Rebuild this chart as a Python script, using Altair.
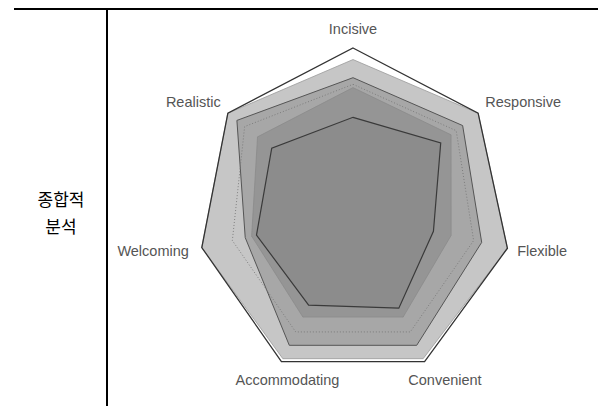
import altair as alt
import pandas as pd

# ---- data (radius as share of the outer ring) ----
axes_names = ["Incisive", "Responsive", "Flexible", "Convenient",
              "Accommodating", "Welcoming", "Realistic"]
s_outer  = [1.00, 0.97, 0.96, 1.00, 1.00, 0.94, 0.97]
s_light  = [0.93, 0.97, 0.96, 0.98, 0.98, 0.94, 0.97]
s_mid    = [0.82, 0.85, 0.80, 0.89, 0.89, 0.67, 0.90]
s_dotted = [0.78, 0.80, 0.75, 0.80, 0.80, 0.75, 0.84]
s_band   = [0.76, 0.76, 0.61, 0.70, 0.70, 0.63, 0.74]
s_inner  = [0.58, 0.68, 0.50, 0.64, 0.62, 0.60, 0.63]
row_title = ["종합적", "분석"]

series = {"outer": s_outer, "light": s_light, "mid": s_mid,
          "dotted": s_dotted, "band": s_band, "inner": s_inner}

rows = []
for name, vals in series.items():
    for k, (cat, v) in enumerate(zip(axes_names, vals)):
        rows.append({"series": name, "axis": cat, "k": k, "value": v})
df = pd.DataFrame(rows)
lab = pd.DataFrame({"axis": axes_names, "k": list(range(len(axes_names)))})
one = pd.DataFrame({"t": [0]})

xs = alt.Scale(domain=[-1, 1], range=[180, 510])
ys = alt.Scale(domain=[-1, 1], range=[370, 40])

base = alt.Chart(df).transform_calculate(
    px="datum.value*sin(2*PI*datum.k/7)",
    py="datum.value*cos(2*PI*datum.k/7)",
)


def poly(name, **mk):
    return (base.transform_filter(alt.datum.series == name)
            .mark_line(interpolate="linear-closed", **mk)
            .encode(x=alt.X("px:Q", scale=xs, axis=None),
                    y=alt.Y("py:Q", scale=ys, axis=None),
                    order="k:Q"))


FILL = "#808080"
FO = 0.45
layers = [
    poly("light", fill=FILL, fillOpacity=FO, stroke="#9a9a9a", strokeWidth=0.8),
    poly("mid", fill=FILL, fillOpacity=FO, stroke="#555555", strokeWidth=1),
    poly("band", fill=FILL, fillOpacity=FO, stroke="#888888", strokeWidth=0.7),
    poly("inner", fill=FILL, fillOpacity=FO, stroke="#3a3a3a", strokeWidth=1.2),
    poly("dotted", stroke="#777777", strokeWidth=0.9, strokeDash=[1, 2]),
    poly("outer", stroke="#333333", strokeWidth=1.3),
]

lbase = alt.Chart(lab).transform_calculate(
    s="sin(2*PI*datum.k/7)",
    c="cos(2*PI*datum.k/7)",
).transform_calculate(
    lx="abs(datum.s)<0.1 ? 0 : (abs(datum.s)<0.5 ? datum.s*1.1+0.08 : datum.s+0.02*(datum.s>0?1:-1))",
    ly="datum.c*(abs(datum.s)<0.1 ? 1.11 : (abs(datum.s)<0.5 ? 1.13 : 1.07))",
)


def labels(cond, align):
    return (lbase.transform_filter(cond)
            .mark_text(align=align, baseline="middle", font="Liberation Sans",
                       fontSize=14.5, color="#555555")
            .encode(x=alt.X("lx:Q", scale=xs, axis=None),
                    y=alt.Y("ly:Q", scale=ys, axis=None),
                    text="axis:N"))


layers += [
    labels("datum.s > 0.5", "left"),
    labels("datum.s < -0.5", "right"),
    labels("abs(datum.s) <= 0.5", "center"),
]

hline = alt.Chart(one).mark_rule(color="black", strokeWidth=2).encode(
    x=alt.value(6), x2=alt.value(590), y=alt.value(1))
vline = alt.Chart(one).mark_rule(color="black", strokeWidth=2).encode(
    x=alt.value(99), y=alt.value(0), y2=alt.value(398))
title = alt.Chart(one).mark_text(
    text=row_title, lineHeight=27, fontSize=17, font="Noto Sans CJK KR",
    color="black", align="center", baseline="middle").encode(
    x=alt.value(53), y=alt.value(193))

chart = alt.layer(*layers, hline, vline, title).properties(
    width=590, height=398, autosize="none", padding=0
).configure_view(stroke=None)

chart.save("out.html", embed_options={"renderer": "svg", "actions": False})
